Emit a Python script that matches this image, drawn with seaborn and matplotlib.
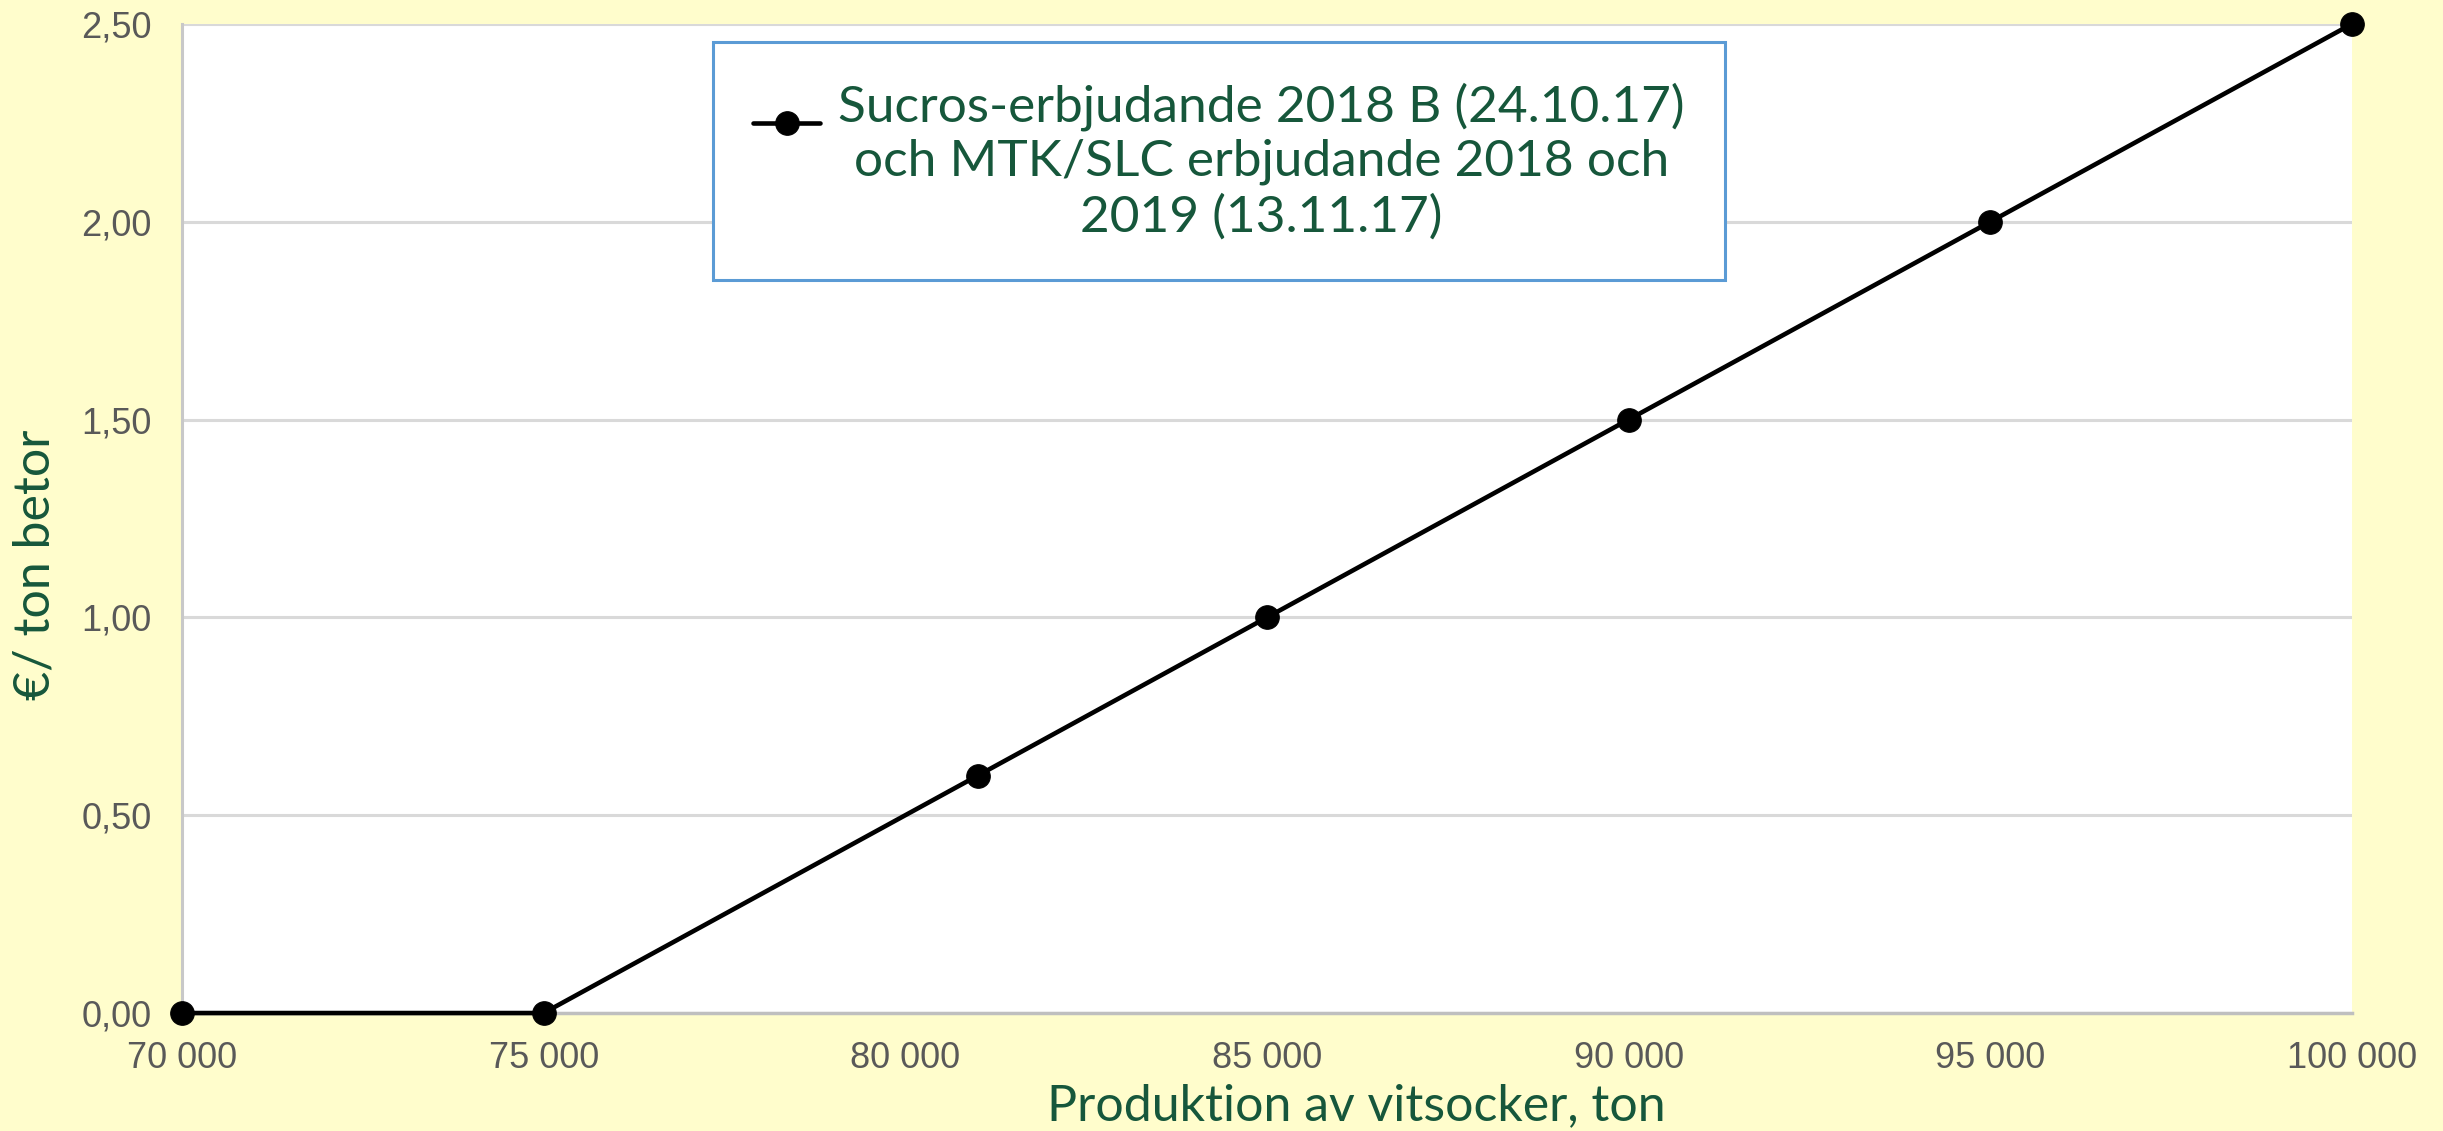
import numpy as np
import pandas as pd
import matplotlib.pyplot as plt
from matplotlib.legend_handler import HandlerLine2D
import seaborn as sns

# Data
produktion = [70000, 75000, 81000, 85000, 90000, 95000, 100000]
euro_per_ton = [0.00, 0.00, 0.60, 1.00, 1.50, 2.00, 2.50]
serie = "Sucros-erbjudande 2018 B (24.10.17)\noch MTK/SLC erbjudande 2018 och\n2019 (13.11.17)"

x_ticks = [70000, 75000, 80000, 85000, 90000, 95000, 100000]
x_ticklabels = ["70 000", "75 000", "80 000", "85 000", "90 000", "95 000", "100 000"]
y_ticks = [0.0, 0.5, 1.0, 1.5, 2.0, 2.5]
y_ticklabels = ["0,00", "0,50", "1,00", "1,50", "2,00", "2,50"]

df = pd.DataFrame({"Produktion": produktion, "Euro": euro_per_ton, "Serie": serie})

bg = "#FFFDCC"
green = "#16573B"
tick_gray = "#595959"


# legend marker sits near the first text line, not the middle one
class UpHandler(HandlerLine2D):
    def create_artists(self, legend, orig_handle, xdescent, ydescent, width, height, fontsize, trans):
        arts = super().create_artists(legend, orig_handle, xdescent, ydescent,
                                      width, height, fontsize, trans)
        for a in arts:
            a.set_ydata(np.asarray(a.get_ydata(), dtype=float) + 28)
        return arts


sns.set_style("whitegrid")
plt.rcParams["font.family"] = ["Liberation Sans", "DejaVu Sans"]

fig = plt.figure(figsize=(24.43, 11.31), dpi=100, facecolor=bg)
ax = fig.add_axes([0.0745, 0.1043, 0.8882, 0.8745])
ax.set_facecolor("white")

sns.lineplot(data=df, x="Produktion", y="Euro", hue="Serie", palette=["black"],
             marker="o", markersize=17, linewidth=3.3, markeredgecolor="black",
             clip_on=False, ax=ax, zorder=5)

ax.set_xlim(70000, 100000)
ax.set_ylim(0, 2.5)
ax.set_xticks(x_ticks)
ax.set_xticklabels(x_ticklabels)
ax.set_yticks(y_ticks)
ax.set_yticklabels(y_ticklabels)
ax.tick_params(axis="both", labelsize=26, colors=tick_gray, length=0)
ax.tick_params(axis="y", pad=22)
ax.tick_params(axis="x", pad=20)

ax.grid(axis="y", color="#D9D9D9", linewidth=2.2)
ax.grid(axis="x", visible=False)
for s in ["top", "right"]:
    ax.spines[s].set_visible(False)
ax.spines["left"].set_color("#C8C8C8")
ax.spines["left"].set_linewidth(2.2)
ax.spines["bottom"].set_color("#BFBFBF")
ax.spines["bottom"].set_linewidth(2.5)

ax.set_xlabel("")
ax.set_ylabel("")
fig.text(0.555, 0.022, "Produktion av vitsocker, ton", ha="center", va="center",
         fontsize=36, color=green, family=["Lato", "DejaVu Sans"])
fig.text(0.0145, 0.501, "€/ ton betor", ha="center", va="center", rotation=90,
         fontsize=36, color=green, family=["Lato", "DejaVu Sans"])

handles, labels = ax.get_legend_handles_labels()
leg = ax.legend(handles, labels, loc="upper left", bbox_to_anchor=(0.292, 0.963),
                bbox_transform=fig.transFigure, borderaxespad=0,
                frameon=True, fancybox=False, borderpad=0.78, labelspacing=0,
                handlelength=1.3, handletextpad=0.35,
                prop={"family": "Lato", "size": 37},
                handler_map={handles[0]: UpHandler()})
leg.get_frame().set_edgecolor("#5B9BD5")
leg.get_frame().set_linewidth(2.2)
leg.get_frame().set_facecolor("white")
leg.get_frame().set_alpha(1)
for t in leg.get_texts():
    t.set_color(green)
    t.set_multialignment("center")
    t.set_linespacing(1.22)

plt.savefig("out.png", dpi=100, facecolor=bg)
